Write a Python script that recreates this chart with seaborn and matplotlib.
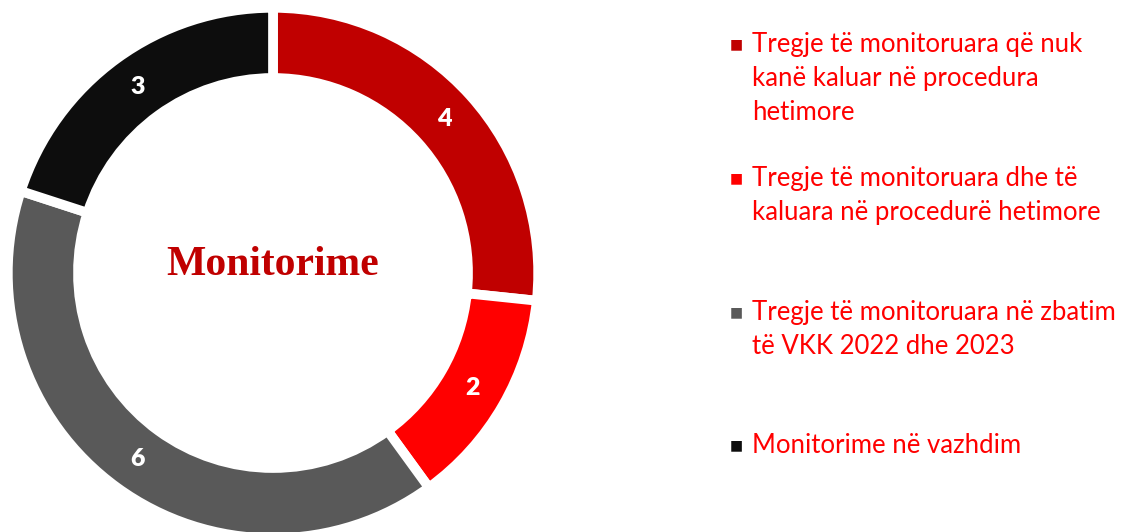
import matplotlib
matplotlib.use("Agg")
import matplotlib.pyplot as plt
import seaborn as sns

labels = [
    "Tregje të monitoruara që nuk\nkanë kaluar në procedura\nhetimore",
    "Tregje të monitoruara dhe të\nkaluara në procedurë hetimore",
    "Tregje të monitoruara në zbatim\ntë VKK 2022 dhe 2023",
    "Monitorime në vazhdim",
]
values = [4, 2, 6, 3]
colors = ["#C00000", "#FF0000", "#595959", "#0D0D0D"]
center_title = "Monitorime"

sns.set_theme(style="white")
plt.rcParams['font.family'] = ['Lato', 'DejaVu Sans']

W, H = 1123, 532
fig = plt.figure(figsize=(W / 100, H / 100), dpi=100)
ax = fig.add_axes([13 / W, -1 / H, 520 / W, 520 / H])

total = sum(values)
wedges, _, autotexts = ax.pie(
    values, colors=colors, startangle=90, counterclock=False, radius=1.02,
    autopct=lambda p: f"{p * total / 100:.0f}", pctdistance=0.868,
    wedgeprops=dict(width=0.27, edgecolor="white", linewidth=7),
    textprops=dict(color="white", fontsize=18, fontweight="heavy"),
)
ax.set_xlim(-1, 1)
ax.set_ylim(-1, 1)
ax.set_aspect("equal")

ax.text(0, 0.03, center_title, ha="center", va="center", fontsize=30,
        fontweight="bold", color="#C00000", family="Liberation Serif")

# legend drawn by hand so the entries keep the reference spacing
first_line = [44, 178, 312, 445]
for lab, col, y in zip(labels, colors, first_line):
    fig.text(736 / W, 1 - y / H, "■", color=col, fontsize=10, ha="center",
             va="center", family="DejaVu Sans")
    fig.text(752 / W, 1 - (y - 12) / H, lab, color="#FF0000", fontsize=18.5,
             ha="left", va="top", linespacing=1.45)

fig.savefig("out.png", dpi=100)
